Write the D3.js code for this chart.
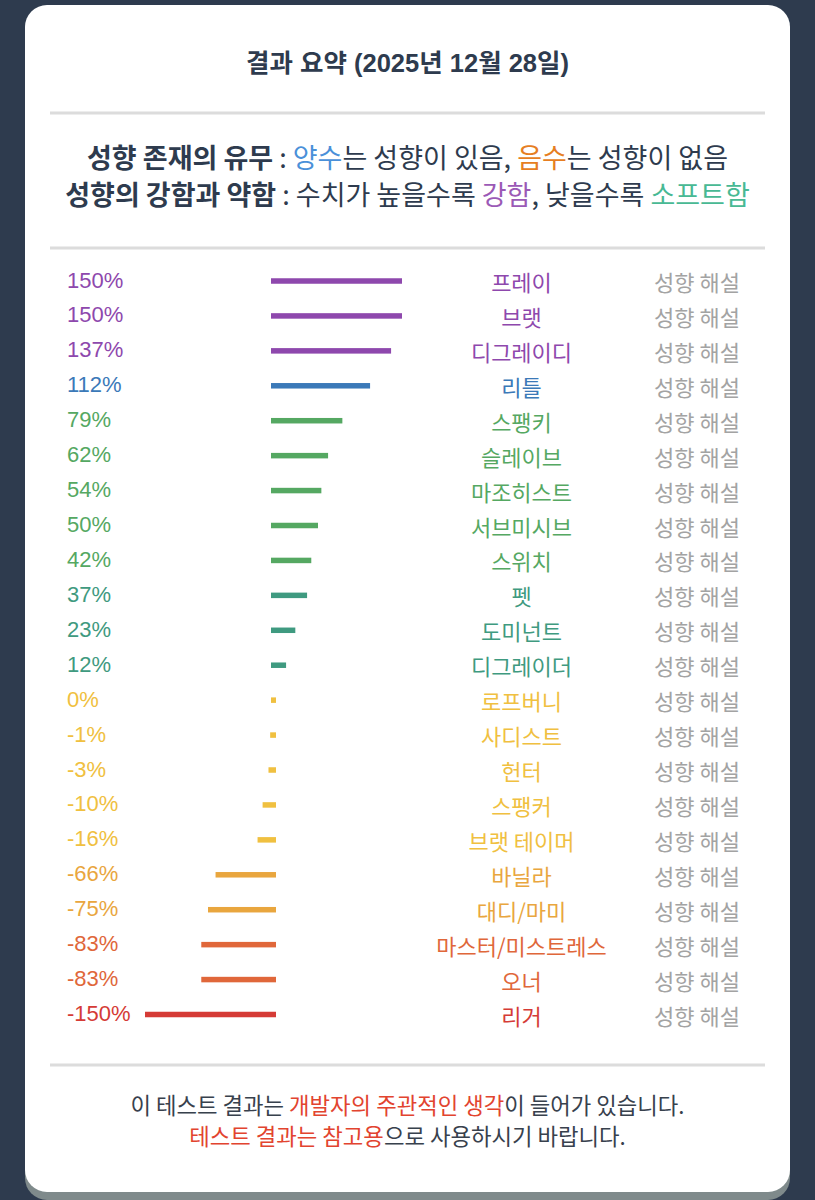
<!DOCTYPE html>
<html><head><meta charset="utf-8">
<script src="https://cdn.jsdelivr.net/npm/d3@7"></script>
<style>html,body{margin:0;padding:0;background:#2e3b4e;}svg{display:block;}</style>
</head><body>
<svg id="chart" width="815" height="1200"></svg>
<script>
const names = ["프레이","브랫","디그레이디","리틀","스팽키","슬레이브","마조히스트","서브미시브","스위치","펫","도미넌트","디그레이더","로프버니","사디스트","헌터","스팽커","브랫 테이머","바닐라","대디/마미","마스터/미스트레스","오너","리거"];
const values = [150,150,137,112,79,62,54,50,42,37,23,12,0,-1,-3,-10,-16,-66,-75,-83,-83,-150];
const colors = ["#8e48ad","#8e48ad","#8e48ad","#3b79b8","#55a862","#55a862","#55a862","#55a862","#55a862","#3f9a80","#3f9a80","#3f9a80","#f0c040","#f0c040","#f0c040","#f0c040","#f0c040","#e9a63e","#e9a63e","#e0673a","#e0673a","#d53b36"];
const detailLabel = "성향 해설";
const titleText = "결과 요약 (2025년 12월 28일)";
const legend1 = [["성향 존재의 유무","#2e3b4e",700],[" : ","#2e3b4e",400],["양수","#4a90d9",400],["는 성향이 있음, ","#2e3b4e",400],["음수","#e67e22",400],["는 성향이 없음","#2e3b4e",400]];
const legend2 = [["성향의 강함과 약함","#2e3b4e",700],[" : 수치가 높을수록 ","#2e3b4e",400],["강함","#9b59b6",400],[", 낮을수록 ","#2e3b4e",400],["소프트함","#48b994",400]];
const foot1 = [["이 테스트 결과는 ","#38414d"],["개발자의 주관적인 생각","#e2442f"],["이 들어가 있습니다.","#38414d"]];
const foot2 = [["테스트 결과는 참고용","#e2442f"],["으로 사용하시기 바랍니다.","#38414d"]];

const svg = d3.select("#chart");
const cx = 407.5;
const KR = "'Noto Sans CJK KR','Noto Sans',sans-serif";
const LAT = "'Liberation Sans',Arial,'Noto Sans CJK KR',sans-serif";

svg.append("rect").attr("x",0).attr("y",0).attr("width",815).attr("height",1200).attr("fill","#2e3b4e");
svg.append("rect").attr("x",25).attr("y",14).attr("width",765).attr("height",1186).attr("rx",22).attr("fill","#7f8a8b");
svg.append("rect").attr("x",25).attr("y",5).attr("width",765).attr("height",1187).attr("rx",22).attr("fill","#ffffff");

svg.append("text").attr("x",cx).attr("y",72).attr("text-anchor","middle")
  .attr("font-family",LAT).attr("font-weight",700).attr("font-size",25.5).attr("fill","#2e3b4e").text(titleText);

[113,248,1065].forEach(y=>{
  svg.append("line").attr("x1",50).attr("x2",765).attr("y1",y).attr("y2",y)
    .attr("stroke","#dcdcdc").attr("stroke-width",3);
});

function mixed(parts,y,size){
  const t = svg.append("text").attr("x",cx).attr("y",y).attr("text-anchor","middle")
    .attr("font-family",KR).attr("font-size",size).attr("xml:space","preserve").style("white-space","pre");
  parts.forEach(p=>t.append("tspan").attr("fill",p[1]).attr("font-weight",p[2]||400).text(p[0]));
}
mixed(legend1,168,27);
mixed(legend2,205,27);
mixed(foot1,1114,22.3);
mixed(foot2,1145,22.3);

const idx = d3.range(names.length);
const y = d3.scalePoint().domain(idx).range([281,1014.5]);
const x = d3.scaleLinear().domain([-150,150]).range([273.5-126,273.5+126]);
const pad = 2.5;

const rows = svg.append("g").selectAll("g").data(idx).join("g");
rows.append("rect")
  .attr("x",i=>Math.min(x(0),x(values[i]))-pad)
  .attr("width",i=>Math.abs(x(values[i])-x(0))+2*pad)
  .attr("y",i=>y(i)-2.75).attr("height",5.5)
  .attr("fill",i=>colors[i]);
rows.append("text").attr("x",67).attr("y",i=>y(i)+6.5)
  .attr("font-family",LAT).attr("font-size",22).attr("fill",i=>colors[i])
  .text(i=>values[i]+"%");
rows.append("text").attr("x",521.5).attr("y",i=>y(i)+10).attr("text-anchor","middle")
  .attr("font-family",KR).attr("font-size",22).attr("fill",i=>colors[i])
  .text(i=>names[i]);
rows.append("text").attr("x",697).attr("y",i=>y(i)+10).attr("text-anchor","middle")
  .attr("font-family",KR).attr("font-size",22).attr("fill","#a3a3a3")
  .text(detailLabel);
</script>
</body></html>
